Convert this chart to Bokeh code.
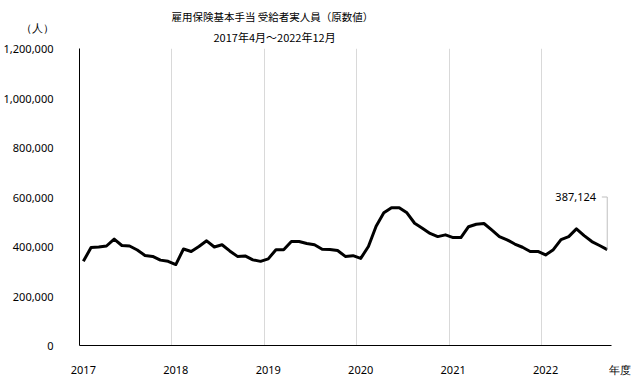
from bokeh.plotting import figure
from bokeh.models import Range1d, FixedTicker, NumeralTickFormatter, Label, Title, LinearAxis
from bokeh.embed import file_html
from bokeh.resources import INLINE

# Monthly values, April 2017 - December 2022 (people)
values = [
    340000, 396000, 398000, 402000, 430000, 404000, 402000, 386000, 364000, 360000, 345000, 340000,   # FY2017
    327000, 390000, 380000, 400000, 423000, 398000, 407000, 382000, 360000, 362000, 346000, 340000,   # FY2018
    350000, 387000, 387000, 420000, 420000, 412000, 407000, 389000, 388000, 384000, 360000, 363000,   # FY2019
    352000, 400000, 482000, 536000, 557000, 557000, 536000, 494000, 474000, 453000, 440000, 447000,   # FY2020
    436000, 436000, 480000, 490000, 493000, 467000, 440000, 427000, 410000, 397000, 380000, 380000,   # FY2021
    366000, 387000, 428000, 440000, 471000, 444000, 420000, 404000, 387124,                           # FY2022 (Apr-Dec)
]
years = ["2017", "2018", "2019", "2020", "2021", "2022"]
y_ticks = [0, 200000, 400000, 600000, 800000, 1000000, 1200000]
title_text = "雇用保険基本手当 受給者実人員（原数値）"
subtitle_text = "2017年4月～2022年12月"
unit_text = "（人）"
year_unit_text = "年度"

MONTHS = 12
n_slots = MONTHS * len(years) - 3  # 69 monthly slots on the category axis
xs = [i + 0.5 for i in range(len(values))]
year_unit_pos = n_slots + 1.2       # "年度" sits just past the end of the axis

NUM_FONT = "Noto Sans"
JP_FONT = "Noto Sans CJK JP"

p = figure(width=643, height=379, output_backend="svg", toolbar_location=None,
           x_range=Range1d(0, n_slots + 2), y_range=Range1d(0, 1200000),
           min_border_left=76, min_border_right=17, min_border_top=48, min_border_bottom=33)
p.outline_line_color = None
p.background_fill_color = "white"
p.border_fill_color = "white"

# grids
p.ygrid.grid_line_color = None
p.xgrid.ticker = FixedTicker(ticks=[MONTHS * k for k in range(1, len(years))])
p.xgrid.grid_line_color = "#d9d9d9"
p.xgrid.grid_line_width = 1

def style_axis(ax):
    ax.major_tick_line_color = None
    ax.minor_tick_line_color = None
    ax.major_tick_out = 0
    ax.major_tick_in = 0
    ax.minor_tick_out = 0
    ax.minor_tick_in = 0
    ax.major_label_text_font = NUM_FONT
    ax.major_label_text_font_size = "11px"
    ax.major_label_text_color = "#000000"

# x axis: the line only over the data span
x_line_axis = p.xaxis[0]
style_axis(x_line_axis)
x_line_axis.ticker = FixedTicker(ticks=[])
x_line_axis.bounds = (0, n_slots)
x_line_axis.axis_line_color = "black"
x_line_axis.axis_line_width = 1
x_line_axis.major_label_standoff = 0

# x axis: fiscal-year labels plus the unit
x_label_ticks = [MONTHS * k + 0.5 for k in range(len(years))] + [year_unit_pos]
x_label_axis = LinearAxis(ticker=FixedTicker(ticks=x_label_ticks))
style_axis(x_label_axis)
x_label_axis.axis_line_color = None
x_label_axis.major_label_overrides = {**{MONTHS * k + 0.5: y for k, y in enumerate(years)},
                                      year_unit_pos: year_unit_text}
x_label_axis.major_label_standoff = 16
p.add_layout(x_label_axis, "below")

# y axis
y_axis = p.yaxis[0]
style_axis(y_axis)
y_axis.ticker = FixedTicker(ticks=y_ticks)
y_axis.formatter = NumeralTickFormatter(format="0,0")
y_axis.major_label_overrides = {y_ticks[-1]: f"{unit_text}\n{y_ticks[-1]:,}\n"}
y_axis.major_label_text_line_height = 1.42
y_axis.axis_line_color = "black"
y_axis.axis_line_width = 1
y_axis.major_label_standoff = 26

# data line
p.line(xs, values, line_color="black", line_width=3, line_join="round")

# callout for last value
last_x = xs[-1]
last_v = values[-1]
callout_y = 600000
p.line([last_x - 0.7, last_x, last_x], [callout_y, callout_y, last_v],
       line_color="#bfbfbf", line_width=1)
p.add_layout(Label(x=last_x - 1.45, y=callout_y, text=f"{last_v:,}",
                   text_align="right", text_baseline="middle",
                   text_font=NUM_FONT, text_font_size="11px", text_color="#000000"))

# titles (stacked above the frame; first added is closest to the frame)
p.add_layout(Title(text=subtitle_text, align="left", offset=134, standoff=7,
                   text_font=JP_FONT, text_font_size="11px", text_font_style="normal",
                   text_color="#000000"), "above")
p.add_layout(Title(text=title_text, align="left", offset=92, standoff=0,
                   text_font=JP_FONT, text_font_size="10.5px", text_font_style="normal",
                   text_color="#000000"), "above")

open("out.html", "w").write(file_html(p, INLINE))
